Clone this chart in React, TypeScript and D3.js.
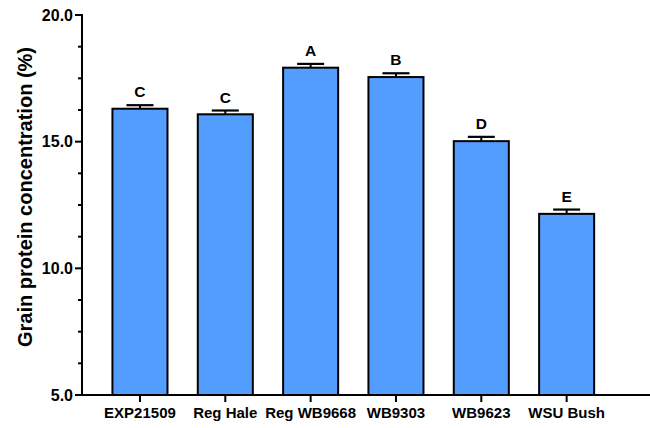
import React from "react";
import * as d3 from "d3";

const categories = ["EXP21509", "Reg Hale", "Reg WB9668", "WB9303", "WB9623", "WSU Bush"];
const means = [16.3, 16.08, 17.92, 17.55, 15.02, 12.15];
const errors = [0.14, 0.15, 0.15, 0.15, 0.17, 0.17];
const letters = ["C", "C", "A", "B", "D", "E"];
const majorTicks = [5, 10, 15, 20];
const minorTicks = [6.25, 7.5, 8.75, 11.25, 12.5, 13.75, 16.25, 17.5, 18.75];

const W = 650;
const H = 428;
const FONT = "Liberation Sans, Arial, sans-serif";

export default function App() {
  const axisX = 82;
  const x = d3
    .scaleBand<string>()
    .domain(categories)
    .range([97.3, 609.3])
    .paddingInner(0.355)
    .paddingOuter(0.1775);
  const y = d3.scaleLinear().domain([5, 20]).range([395, 15]);
  const bw = x.bandwidth();

  return (
    <svg width={W} height={H} style={{ position: "absolute", left: 0, top: 0 }} fontFamily={FONT}>
      <rect width={W} height={H} fill="#fff" />
      {categories.map((c, i) => {
        const x0 = x(c)!;
        const cx = x0 + bw / 2;
        const top = y(means[i]);
        const capY = y(means[i] + errors[i]);
        return (
          <g key={c}>
            <line x1={cx} x2={cx} y1={top} y2={capY} stroke="#000" strokeWidth={2} />
            <line x1={cx - 13.5} x2={cx + 13.5} y1={capY} y2={capY} stroke="#000" strokeWidth={2.2} />
            <rect x={x0} y={top} width={bw} height={y(5) - top} fill="#539DFF" stroke="#000" strokeWidth={2} />
            <text x={cx} y={capY - 8} textAnchor="middle" fontSize={15.5} fontWeight="bold" fill="#000">
              {letters[i]}
            </text>
          </g>
        );
      })}
      <line x1={axisX} x2={axisX} y1={y(20) - 1} y2={y(5)} stroke="#000" strokeWidth={2} />
      {majorTicks.map((t) => (
        <g key={t}>
          <line x1={axisX - 7} x2={axisX} y1={y(t)} y2={y(t)} stroke="#000" strokeWidth={2} />
          <text x={axisX - 9} y={y(t)} dy="0.36em" textAnchor="end" fontSize={16} fontWeight="bold" fill="#000">
            {d3.format(".1f")(t)}
          </text>
        </g>
      ))}
      {minorTicks.map((t) => (
        <line key={t} x1={axisX - 4} x2={axisX} y1={y(t)} y2={y(t)} stroke="#000" strokeWidth={2} />
      ))}
      <line x1={axisX - 1} x2={W} y1={y(5)} y2={y(5)} stroke="#000" strokeWidth={2} />
      {categories.map((c) => {
        const cx = x(c)! + bw / 2;
        return (
          <g key={c}>
            <line x1={cx} x2={cx} y1={y(5)} y2={y(5) + 7} stroke="#000" strokeWidth={2} />
            <text x={cx} y={418} textAnchor="middle" fontSize={15} fontWeight="bold" fill="#000">
              {c}
            </text>
          </g>
        );
      })}
      <text
        transform={`translate(32,197) rotate(-90)`}
        textAnchor="middle"
        fontSize={20}
        fontWeight="bold"
        fill="#000"
      >
        Grain protein concentration (%)
      </text>
    </svg>
  );
}
